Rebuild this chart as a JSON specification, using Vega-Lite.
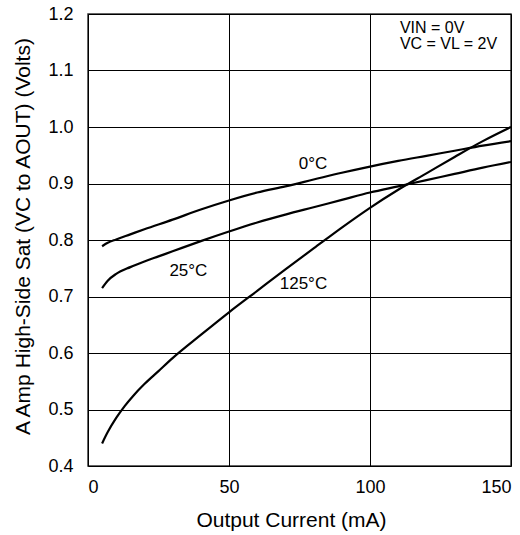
{
  "$schema": "https://vega.github.io/schema/vega-lite/v6.json",
  "autosize": {"type": "none"},
  "padding": {"left": 88, "top": 14, "right": 9, "bottom": 69},
  "width": 423,
  "height": 452,
  "background": "white",
  "config": {
    "font": "Liberation Sans",
    "view": {"stroke": "#333333", "strokeWidth": 1.5},
    "axis": {
      "domain": false,
      "ticks": false,
      "grid": true,
      "gridColor": "#000000",
      "gridOpacity": 1,
      "gridWidth": 1,
      "labelFont": "Liberation Sans",
      "labelFontSize": 18,
      "labelColor": "#000000",
      "titleFont": "Liberation Sans",
      "titleFontSize": 21,
      "titleFontWeight": "normal",
      "titleColor": "#000000"
    }
  },
  "datasets": {
    "curves": [
      {"current": 5, "v": 0.789, "temp": "0°C"},
      {"current": 7, "v": 0.795, "temp": "0°C"},
      {"current": 10, "v": 0.801, "temp": "0°C"},
      {"current": 15, "v": 0.810, "temp": "0°C"},
      {"current": 20, "v": 0.819, "temp": "0°C"},
      {"current": 30, "v": 0.836, "temp": "0°C"},
      {"current": 40, "v": 0.854, "temp": "0°C"},
      {"current": 50, "v": 0.870, "temp": "0°C"},
      {"current": 60, "v": 0.884, "temp": "0°C"},
      {"current": 70, "v": 0.895, "temp": "0°C"},
      {"current": 80, "v": 0.907, "temp": "0°C"},
      {"current": 90, "v": 0.919, "temp": "0°C"},
      {"current": 100, "v": 0.930, "temp": "0°C"},
      {"current": 110, "v": 0.940, "temp": "0°C"},
      {"current": 120, "v": 0.949, "temp": "0°C"},
      {"current": 130, "v": 0.958, "temp": "0°C"},
      {"current": 140, "v": 0.967, "temp": "0°C"},
      {"current": 150, "v": 0.975, "temp": "0°C"},
      {"current": 5, "v": 0.715, "temp": "25°C"},
      {"current": 7, "v": 0.728, "temp": "25°C"},
      {"current": 10, "v": 0.740, "temp": "25°C"},
      {"current": 15, "v": 0.752, "temp": "25°C"},
      {"current": 20, "v": 0.762, "temp": "25°C"},
      {"current": 25, "v": 0.771, "temp": "25°C"},
      {"current": 30, "v": 0.780, "temp": "25°C"},
      {"current": 40, "v": 0.798, "temp": "25°C"},
      {"current": 50, "v": 0.815, "temp": "25°C"},
      {"current": 60, "v": 0.831, "temp": "25°C"},
      {"current": 70, "v": 0.845, "temp": "25°C"},
      {"current": 80, "v": 0.858, "temp": "25°C"},
      {"current": 90, "v": 0.871, "temp": "25°C"},
      {"current": 100, "v": 0.884, "temp": "25°C"},
      {"current": 110, "v": 0.895, "temp": "25°C"},
      {"current": 120, "v": 0.906, "temp": "25°C"},
      {"current": 130, "v": 0.917, "temp": "25°C"},
      {"current": 140, "v": 0.928, "temp": "25°C"},
      {"current": 150, "v": 0.938, "temp": "25°C"},
      {"current": 5, "v": 0.440, "temp": "125°C"},
      {"current": 7, "v": 0.460, "temp": "125°C"},
      {"current": 10, "v": 0.485, "temp": "125°C"},
      {"current": 13, "v": 0.506, "temp": "125°C"},
      {"current": 16, "v": 0.524, "temp": "125°C"},
      {"current": 20, "v": 0.545, "temp": "125°C"},
      {"current": 25, "v": 0.568, "temp": "125°C"},
      {"current": 30, "v": 0.591, "temp": "125°C"},
      {"current": 40, "v": 0.632, "temp": "125°C"},
      {"current": 50, "v": 0.672, "temp": "125°C"},
      {"current": 60, "v": 0.710, "temp": "125°C"},
      {"current": 70, "v": 0.748, "temp": "125°C"},
      {"current": 80, "v": 0.785, "temp": "125°C"},
      {"current": 90, "v": 0.822, "temp": "125°C"},
      {"current": 100, "v": 0.857, "temp": "125°C"},
      {"current": 110, "v": 0.889, "temp": "125°C"},
      {"current": 120, "v": 0.918, "temp": "125°C"},
      {"current": 130, "v": 0.947, "temp": "125°C"},
      {"current": 140, "v": 0.975, "temp": "125°C"},
      {"current": 150, "v": 1.0, "temp": "125°C"}
    ],
    "labels": [
      {"current": 79.8, "v": 0.925, "text": "0°C"},
      {"current": 35.6, "v": 0.736, "text": "25°C"},
      {"current": 76.4, "v": 0.713, "text": "125°C"}
    ],
    "notes": [
      {"current": 110.6, "v": 1.1655, "text": "VIN = 0V\nVC = VL = 2V"}
    ]
  },
  "layer": [
    {
      "data": {"name": "curves"},
      "mark": {"type": "line", "color": "#000000", "strokeWidth": 2.2, "interpolate": "monotone"},
      "encoding": {
        "x": {
          "field": "current", "type": "quantitative",
          "scale": {"domain": [0, 150], "nice": false},
          "axis": {"values": [0, 50, 100, 150], "title": "Output Current (mA)", "labelPadding": 12, "titlePadding": 13, "titleX": 203}
        },
        "y": {
          "field": "v", "type": "quantitative",
          "scale": {"domain": [0.4, 1.2], "nice": false, "zero": false},
          "axis": {"values": [0.4, 0.5, 0.6, 0.7, 0.8, 0.9, 1.0, 1.1, 1.2], "format": ".1f", "title": "A Amp High-Side Sat (VC to AOUT) (Volts)", "labelPadding": 15, "titlePadding": 14, "titleY": 222}
        },
        "detail": {"field": "temp", "type": "nominal"}
      }
    },
    {
      "data": {"name": "labels"},
      "mark": {"type": "text", "fontSize": 17, "align": "center", "baseline": "alphabetic", "color": "#000000", "font": "Liberation Sans"},
      "encoding": {
        "x": {"field": "current", "type": "quantitative"},
        "y": {"field": "v", "type": "quantitative"},
        "text": {"field": "text"}
      }
    },
    {
      "data": {"name": "notes"},
      "mark": {"type": "text", "fontSize": 16, "align": "left", "baseline": "alphabetic", "lineBreak": "\n", "lineHeight": 16, "color": "#000000", "font": "Liberation Sans"},
      "encoding": {
        "x": {"field": "current", "type": "quantitative"},
        "y": {"field": "v", "type": "quantitative"},
        "text": {"field": "text"}
      }
    }
  ]
}
